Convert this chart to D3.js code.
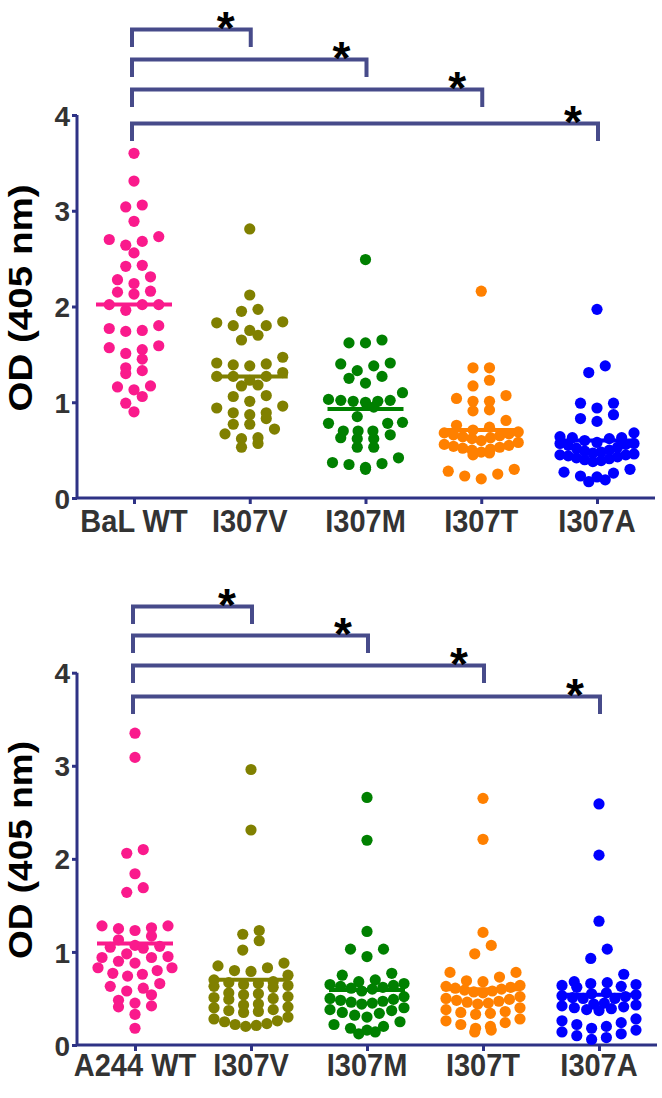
<!DOCTYPE html>
<html><head><meta charset="utf-8">
<script src="https://cdn.jsdelivr.net/npm/d3@7"></script>
<style>body{margin:0;background:#fff}svg{display:block}</style>
</head><body>
<svg id="c" width="662" height="1098"></svg>
<script>
// ---------- data ----------
const topCategories = ["BaL WT", "I307V", "I307M", "I307T", "I307A"];
const bottomCategories = ["A244 WT", "I307V", "I307M", "I307T", "I307A"];
const yTicks = [0, 1, 2, 3, 4];
const yLabel = "OD (405 nm)";
const groupColors = ["#fa1a8c", "#808000", "#008000", "#ff8000", "#0000ff"];

const topBaLWT = [3.60,3.31,3.06,3.04,2.89,2.73,2.70,2.68,2.64,2.56,2.43,2.42,2.31,2.28,2.24,2.16,2.15,2.13,2.02,2.02,2.02,1.96,1.80,1.77,1.75,1.74,1.59,1.57,1.55,1.51,1.45,1.36,1.33,1.30,1.17,1.16,1.13,1.06,0.99,0.90];
const topI307V = [2.81,2.12,1.97,1.95,1.84,1.83,1.80,1.80,1.75,1.70,1.65,1.47,1.41,1.40,1.39,1.38,1.31,1.27,1.27,1.27,1.23,1.18,1.17,1.07,1.06,1.01,0.96,0.94,0.89,0.89,0.87,0.83,0.77,0.77,0.72,0.67,0.63,0.62,0.57,0.53];
const topI307M = [2.49,1.65,1.62,1.62,1.41,1.40,1.38,1.33,1.27,1.25,1.20,1.10,1.03,1.02,1.02,1.01,1.01,1.00,0.95,0.85,0.79,0.78,0.78,0.70,0.70,0.70,0.66,0.62,0.62,0.63,0.53,0.53,0.42,0.37,0.36,0.35,0.32,0.30];
const topI307T = [2.16,1.36,1.36,1.23,1.17,1.07,1.04,1.01,1.01,0.92,0.91,0.81,0.76,0.74,0.71,0.69,0.68,0.67,0.66,0.65,0.64,0.63,0.62,0.60,0.58,0.56,0.55,0.54,0.53,0.52,0.51,0.50,0.48,0.47,0.45,0.30,0.28,0.25,0.23,0.20];
const topI307A = [1.97,1.38,1.31,0.99,0.99,0.94,0.87,0.83,0.80,0.68,0.64,0.63,0.63,0.62,0.60,0.58,0.57,0.57,0.56,0.55,0.53,0.52,0.50,0.49,0.48,0.47,0.46,0.45,0.45,0.44,0.43,0.42,0.41,0.40,0.39,0.38,0.30,0.27,0.26,0.23,0.22,0.19,0.17];
const topMeans = [2.02, 1.27, 0.93, 0.71, 0.60];

const bottomA244WT = [3.35,3.09,2.10,2.06,1.84,1.69,1.64,1.28,1.28,1.26,1.25,1.23,1.17,1.13,1.07,1.06,1.05,1.04,0.98,0.95,0.94,0.94,0.90,0.88,0.83,0.83,0.80,0.77,0.76,0.74,0.66,0.63,0.61,0.58,0.54,0.48,0.45,0.42,0.41,0.33,0.18];
const bottomI307V = [2.96,2.31,1.23,1.19,1.12,1.02,0.88,0.85,0.83,0.80,0.79,0.75,0.70,0.68,0.67,0.66,0.65,0.64,0.63,0.62,0.56,0.55,0.54,0.52,0.51,0.50,0.49,0.44,0.43,0.41,0.40,0.38,0.37,0.36,0.35,0.30,0.28,0.26,0.25,0.23,0.22,0.21,0.20];
const bottomI307M = [2.66,2.20,1.22,1.03,1.03,0.95,0.77,0.75,0.70,0.68,0.66,0.65,0.64,0.63,0.62,0.61,0.60,0.58,0.52,0.50,0.49,0.48,0.47,0.46,0.45,0.44,0.40,0.38,0.37,0.35,0.34,0.32,0.30,0.25,0.22,0.20,0.18,0.16,0.14,0.12];
const bottomI307T = [2.65,2.21,1.21,1.07,0.98,0.78,0.78,0.73,0.69,0.68,0.64,0.63,0.62,0.61,0.60,0.59,0.58,0.57,0.56,0.52,0.50,0.49,0.48,0.47,0.46,0.45,0.44,0.40,0.38,0.36,0.35,0.34,0.33,0.28,0.26,0.24,0.22,0.20,0.18,0.16,0.14];
const bottomI307A = [2.59,2.04,1.33,1.03,0.93,0.76,0.68,0.67,0.66,0.65,0.64,0.63,0.62,0.56,0.55,0.54,0.53,0.52,0.51,0.50,0.50,0.45,0.44,0.43,0.42,0.41,0.40,0.39,0.38,0.37,0.28,0.26,0.24,0.22,0.20,0.18,0.16,0.14,0.12,0.10,0.08,0.06];
const bottomMeans = [1.09, 0.70, 0.59, 0.60, 0.54];

const comparedGroups = [1, 2, 3, 4];   // each compared with group 0
const significance = ["*", "*", "*", "*"];

// ---------- layout ----------
const panels = [
  { cats: topCategories, groups: [topBaLWT, topI307V, topI307M, topI307T, topI307A], means: topMeans,
    y0: 498, y4: 115, xL: 77, xR: 655, catX: [134, 597], bracketY: [29.5, 59.5, 89.5, 123.5], drop: 17.5,
    labelCY: 298, labelLen: 227, catBase: 532 },
  { cats: bottomCategories, groups: [bottomA244WT, bottomI307V, bottomI307M, bottomI307T, bottomI307A], means: bottomMeans,
    y0: 1045, y4: 672.7, xL: 77, xR: 657, catX: [135, 599], bracketY: [606.5, 635.5, 665.5, 696.5], drop: 17.5,
    labelCY: 850, labelLen: 218, catBase: 1076 }
];

const AXIS = "#2e3285", BRACKET = "#474b8a", TXT = "#333";
const FONT = "'Liberation Sans', Arial, Helvetica, sans-serif";
const svg = d3.select("#c");

function swarm(values, y, rowH, spacing, maxHalf) {
  const pts = values.map(v => ({ v, y: y(v), dx: 0 })).sort((a, b) => a.y - b.y);
  const rows = []; let cur = null;
  for (const p of pts) {
    if (!cur || p.y - cur.y0 > rowH) { cur = { y0: p.y, pts: [] }; rows.push(cur); }
    cur.pts.push(p);
  }
  rows.forEach(r => {
    const n = r.pts.length;
    const sp = n > 1 ? Math.min(spacing, 2 * maxHalf / (n - 1)) : 0;
    const offs = d3.range(n).map(i => (i - (n - 1) / 2) * sp)
      .sort((a, b) => Math.abs(a) - Math.abs(b) || a - b);
    const byLow = r.pts.slice().sort((a, b) => b.y - a.y);
    byLow.forEach((p, i) => p.dx = offs[i]);
  });
  return pts;
}

panels.forEach(P => {
  const g = svg.append("g");
  const y = d3.scaleLinear().domain([0, 4]).range([P.y0, P.y4]);
  const x = d3.scalePoint().domain(P.cats).range(P.catX);

  // y axis
  const ya = g.append("g").attr("transform", `translate(${P.xL},0)`)
    .call(d3.axisLeft(y).tickValues(yTicks).tickFormat(d3.format("d")).tickSize(5).tickPadding(2));
  ya.select(".domain").attr("stroke", AXIS).attr("stroke-width", 3).attr("d", `M0,${P.y4}V${P.y0}`);
  ya.selectAll(".tick line").attr("stroke", AXIS).attr("stroke-width", 3);
  ya.selectAll(".tick text").attr("fill", TXT).style("font-family", FONT).style("font-weight", "bold")
    .style("font-size", "28px").attr("dy", "0.36em");

  // x axis
  const xa = g.append("g").attr("transform", `translate(0,${P.y0})`)
    .call(d3.axisBottom(x).tickSize(6).tickFormat(""));
  xa.select(".domain").attr("stroke", AXIS).attr("stroke-width", 3).attr("d", `M${P.xL},0H${P.xR}`);
  xa.selectAll(".tick line").attr("stroke", AXIS).attr("stroke-width", 3);
  xa.selectAll(".tick text").remove();
  g.selectAll(".cat").data(P.cats).join("text")
    .attr("transform", d => `translate(${x(d)},${P.catBase}) scale(1,1.1)`)
    .attr("text-anchor", "middle").attr("fill", TXT)
    .style("font-family", FONT).style("font-weight", "bold").style("font-size", "29px")
    .text(d => d);

  // y label
  g.append("text").attr("transform", `translate(32,${P.labelCY}) rotate(-90)`)
    .attr("text-anchor", "middle").attr("fill", "#000")
    .attr("textLength", P.labelLen).attr("lengthAdjust", "spacingAndGlyphs")
    .style("font-family", FONT).style("font-weight", "bold").style("font-size", "33px")
    .text(yLabel);

  // dots
  P.groups.forEach((vals, gi) => {
    const pts = swarm(vals, y, 10, 16.5, 37);
    g.append("g").selectAll("circle").data(pts).join("circle")
      .attr("cx", d => x(P.cats[gi]) + d.dx).attr("cy", d => d.y).attr("r", 5.6)
      .attr("fill", groupColors[gi]);
  });
  // mean lines
  g.selectAll(".mean").data(P.means).join("line")
    .attr("x1", (d, i) => x(P.cats[i]) - 38).attr("x2", (d, i) => x(P.cats[i]) + 38)
    .attr("y1", d => y(d)).attr("y2", d => y(d))
    .attr("stroke", (d, i) => groupColors[i]).attr("stroke-width", 4);

  // brackets
  comparedGroups.forEach((gi, k) => {
    const by = P.bracketY[k];
    const xl = x(P.cats[0]) - 2, xr = x(P.cats[gi]) + 1;
    g.append("path").attr("d", `M${xl},${by + P.drop}V${by}H${xr}V${by + P.drop}`)
      .attr("fill", "none").attr("stroke", BRACKET).attr("stroke-width", 4);
    g.append("text").attr("x", xr - 25).attr("y", by + 14)
      .attr("text-anchor", "middle").attr("fill", "#000")
      .style("font-family", FONT).style("font-weight", "bold").style("font-size", "46px")
      .text(significance[k]);
  });
});
</script>
</body></html>
